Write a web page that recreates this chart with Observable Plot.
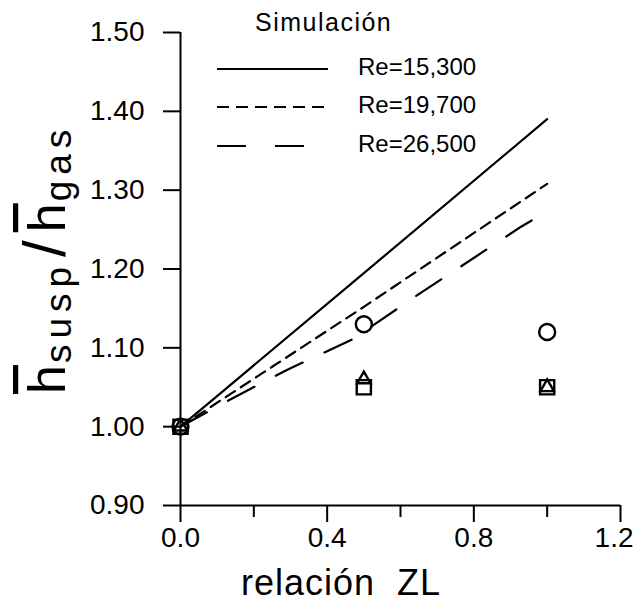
<!DOCTYPE html>
<html><head><meta charset="utf-8">
<script src="https://cdn.jsdelivr.net/npm/d3@7"></script>
<script src="https://cdn.jsdelivr.net/npm/@observablehq/plot@0.6"></script>
<style>body{margin:0;background:#fff}#chart svg{display:block}</style>
</head><body><div id="chart"></div>
<script>
// ---- data ----
const seriesNames = ["Re=15,300", "Re=19,700", "Re=26,500"];
const legendTitle = "Simulación";
const solidX = [0, 0.09, 0.47, 1.0];
const solidY = [1.00, 1.035, 1.183, 1.39];
const dashX = [0, 0.25, 0.5, 1.0];
const dashY = [1.00, 1.076, 1.152, 1.308];
const longX = [0, 0.15, 0.29, 0.47, 0.64, 0.93, 1.0];
const longY = [1.00, 1.038, 1.072, 1.111, 1.165, 1.254, 1.273];
const expX = [0, 0.5, 1.0];
const circleY = [1.00, 1.13, 1.12];
const triangleY = [1.00, 1.06, 1.05];
const squareY = [1.00, 1.05, 1.05];
const yTicks = [0.90, 1.00, 1.10, 1.20, 1.30, 1.40, 1.50];
const yTickLabels = ["0.90", "1.00", "1.10", "1.20", "1.30", "1.40", "1.50"];
const xMajor = [0, 0.4, 0.8, 1.2];
const xTickLabels = ["0.0", "0.4", "0.8", "1.2"];
const xMinor = [0.2, 0.6, 1.0];
const xTitle = "relación  ZL";

const pts = (xs, ys) => xs.map((x, i) => ({x, y: ys[i]}));
const FONT = "'Liberation Sans', Arial, sans-serif";
const lastMajor = xMajor.length - 1;

const chart = Plot.plot({
  width: 638, height: 603,
  marginLeft: 180, marginRight: 18, marginTop: 32, marginBottom: 98,
  x: {type: "linear", domain: [0, 1.2]},
  y: {type: "linear", domain: [0.9, 1.5]},
  style: {fontFamily: FONT, fontSize: "28px", color: "black", background: "white"},
  marks: [
    Plot.axisY(yTicks, {tickSize: 17, tickPadding: 19, tickFormat: (d, i) => yTickLabels[i], strokeWidth: 2, label: null, fontSize: 28}),
    Plot.axisX(xMajor, {tickSize: 17, tickPadding: 5, tickFormat: (d, i) => i === lastMajor ? "" : xTickLabels[i], strokeWidth: 2, label: null, fontSize: 28}),
    Plot.axisX(xMajor.slice(lastMajor), {tickSize: 0, tickPadding: 22, tickFormat: () => xTickLabels[lastMajor], label: null, fontSize: 28, textAnchor: "end", dx: 13}),
    Plot.axisX(xMinor, {tickSize: 12, tickFormat: () => "", strokeWidth: 2, label: null}),
    Plot.ruleX([0], {strokeWidth: 2}),
    Plot.ruleY([0.9], {strokeWidth: 2}),
    Plot.line(pts(solidX, solidY), {x: "x", y: "y", stroke: "black", strokeWidth: 2.2}),
    Plot.line(pts(dashX, dashY), {x: "x", y: "y", stroke: "black", strokeWidth: 2.2, strokeDasharray: "11,7"}),
    Plot.line(pts(longX, longY), {x: "x", y: "y", stroke: "black", strokeWidth: 2.2, strokeDasharray: "30,24"}),
    Plot.dot(pts(expX, circleY), {x: "x", y: "y", symbol: "circle", r: 8, stroke: "black", strokeWidth: 2.4, fill: "none"}),
    Plot.dot(pts(expX, squareY), {x: "x", y: "y", symbol: "square", r: 8, stroke: "black", strokeWidth: 2.4, fill: "none"}),
    Plot.dot(pts(expX, triangleY), {x: "x", y: "y", symbol: "triangle", r: 5, stroke: "black", strokeWidth: 2.4, fill: "none"})
  ]
});
document.getElementById("chart").appendChild(chart);

const svg = d3.select(chart);

// legend
const leg = svg.append("g").attr("font-family", FONT).attr("fill", "black").attr("text-anchor", "start");
leg.append("text").attr("x", 255).attr("y", 31).attr("font-size", 25).attr("letter-spacing", 1.5).text(legendTitle);
const dashes = [null, "12,7", "29,29"];
const rowsLine = [69, 107, 146];
const rowsText = [75, 113, 152];
seriesNames.forEach((name, i) => {
  leg.append("line").attr("x1", 217).attr("x2", i === 2 ? 305 : 328)
    .attr("y1", rowsLine[i]).attr("y2", rowsLine[i])
    .attr("stroke", "black").attr("stroke-width", 2.2)
    .attr("stroke-dasharray", dashes[i]);
  leg.append("text").attr("x", 358).attr("y", rowsText[i]).attr("font-size", 24).text(name);
});

// x title
svg.append("text").attr("x", 341).attr("y", 595).attr("text-anchor", "middle")
  .attr("font-family", FONT).attr("font-size", 36).attr("letter-spacing", 1)
  .attr("fill", "black").text(xTitle);

// y title: h-bar_susp / h-bar_gas
const yt = svg.append("text").attr("transform", "translate(65,394) rotate(-90)")
  .attr("text-anchor", "start").attr("font-family", FONT).attr("fill", "black");
yt.append("tspan").attr("font-size", 52).style("text-decoration", "overline").text("h");
yt.append("tspan").attr("font-size", 37).attr("dy", 6).attr("dx", 2).attr("letter-spacing", 6).text("susp");
yt.append("tspan").attr("font-size", 60).attr("dy", -6).attr("dx", 4).text("/");
yt.append("tspan").attr("font-size", 52).attr("dx", 8).style("text-decoration", "overline").text("h");
yt.append("tspan").attr("font-size", 37).attr("dy", 6).attr("dx", 2).attr("letter-spacing", 6).text("gas");
</script>
</body></html>
